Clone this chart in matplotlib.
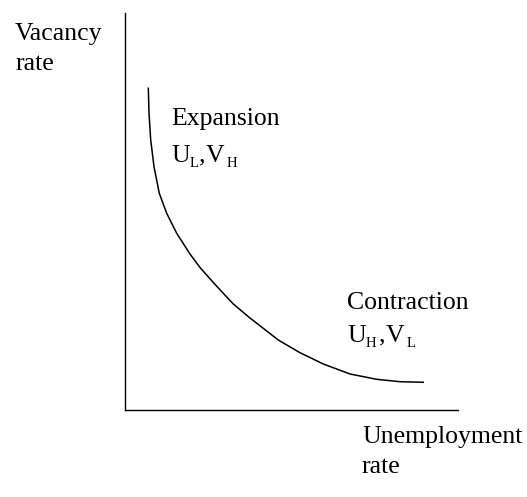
import matplotlib
matplotlib.use('Agg')
import matplotlib.pyplot as plt

# Beveridge curve (axis units 0..10)
unemployment = [0.714, 0.735, 0.786, 0.885, 1.043, 1.265, 1.565, 1.964, 2.264,
                2.744, 3.262, 3.763, 4.612, 5.262, 5.961, 6.762, 7.562, 8.261, 8.960]
vacancy = [8.103, 7.474, 6.801, 6.128, 5.458, 4.955, 4.451, 3.929, 3.589,
           3.136, 2.670, 2.317, 1.763, 1.443, 1.159, 0.907, 0.773, 0.713, 0.698]

plt.rcParams['font.family'] = ['Liberation Serif', 'DejaVu Serif']

W, H = 527, 497
fig = plt.figure(figsize=(W / 100, H / 100), dpi=100)
ax = fig.add_axes([124.5 / W, (H - 410) / H, (458 - 124.5) / W, (410 - 13) / H])
ax.set_xlim(0, 10)
ax.set_ylim(0, 10)

ax.plot(unemployment, vacancy, color='black', lw=1.1)

for side in ['top', 'right']:
    ax.spines[side].set_visible(False)
for side in ['left', 'bottom']:
    ax.spines[side].set_linewidth(1.0)
ax.set_xticks([])
ax.set_yticks([])

fs = 18.5
sub = fs * 0.58
sub_w = {'L': 7, 'H': 11}


def label(px, py, s, size=fs):
    fig.text(px / W, (H - py) / H, s, fontsize=size, ha='left', va='baseline')


def state(px, py, a, b):
    # "U_a, V_b" with small, low subscripts
    label(px, py, 'U')
    label(px + 19, py + 5, a, sub)
    cx = px + 19 + sub_w[a] + 2
    label(cx, py - 1, ',')
    label(cx + 7, py, 'V')
    label(cx + 28, py + 5, b, sub)


label(15, 40, 'Vacancy')
label(15, 70, 'rate')
label(171, 125, 'Expansion')
state(171, 162, 'L', 'H')
label(347, 309, 'Contraction')
state(347, 342, 'H', 'L')
label(362, 443, 'Unemployment')
label(362, 473, 'rate')

fig.savefig('out.png', dpi=100)
